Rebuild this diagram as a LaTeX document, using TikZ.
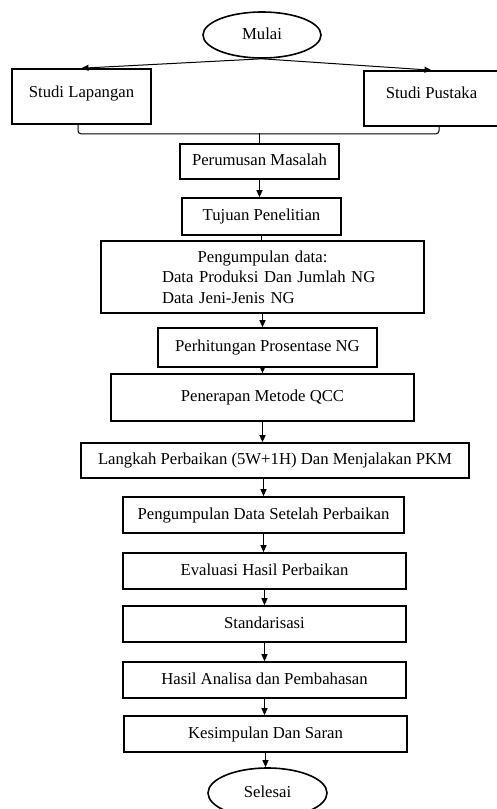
\documentclass[tikz,border=0pt]{standalone}
\usepackage{fontspec}
\setmainfont{Liberation Serif}
\usetikzlibrary{arrows.meta,shapes.geometric}
\begin{document}
\begin{tikzpicture}[x=1pt,y=-1pt,
  txt/.style={font=\fontsize{16.7}{20.5}\selectfont},
  box/.style={txt,draw,line width=1.6pt,rectangle,inner sep=0pt,text height=12pt,text depth=4pt},
  oval/.style={txt,draw,line width=1.6pt,ellipse,inner sep=0pt,text height=12pt,text depth=4pt},
  arr/.style={line width=1pt,-{Triangle[length=7pt,width=6pt]}},
  ln/.style={line width=1pt}]
\useasboundingbox (0,0) rectangle (496,809);

\node[oval,minimum width=118pt,minimum height=46pt] (mulai) at (262,35) {Mulai};
\node[box,minimum width=139pt,minimum height=55pt,text height=28pt,text depth=27pt] (lap) at (81.5,96.5) {Studi Lapangan};
\node[box,minimum width=135pt,minimum height=55pt,text height=27.5pt,text depth=27.5pt] (pus) at (431.5,98.5) {Studi Pustaka};
\node[box,minimum width=159pt,minimum height=35pt] (per) at (259.5,161.5) {Perumusan Masalah};
\node[box,minimum width=159pt,minimum height=37pt] (tuj) at (261.5,216.5) {Tujuan Penelitian};
\node[txt,draw,line width=1.6pt,rectangle,inner sep=0pt,minimum width=323pt,minimum height=72pt,text width=323pt,align=left] (pdata) at (262.5,277)
  {\makebox[323pt][c]{Pengumpulan data:}\\\hspace*{61pt}Data Produksi Dan Jumlah NG\\\hspace*{61pt}Data Jeni-Jenis NG};
\node[box,minimum width=219pt,minimum height=39pt] (phit) at (267.5,347.5) {Perhitungan Prosentase NG};
\node[box,minimum width=303pt,minimum height=47pt] (pen) at (262.5,397.5) {Penerapan Metode QCC};
\node[box,minimum width=388pt,minimum height=35pt] (lang) at (275,460.5) {Langkah Perbaikan (5W+1H) Dan Menjalakan PKM};
\node[box,minimum width=281pt,minimum height=36pt] (setl) at (263.5,515) {Pengumpulan Data Setelah Perbaikan};
\node[box,minimum width=283pt,minimum height=36pt] (eval) at (264.5,571) {Evaluasi Hasil Perbaikan};
\node[box,minimum width=283pt,minimum height=36pt] (std) at (264.5,624) {Standarisasi};
\node[box,minimum width=283pt,minimum height=36pt] (has) at (264.5,680) {Hasil Analisa dan Pembahasan};
\node[box,minimum width=283pt,minimum height=36pt] (kes) at (265.5,734) {Kesimpulan Dan Saran};
\node[oval,minimum width=119pt,minimum height=50pt] (sel) at (267.5,793) {Selesai};

\coordinate (jn) at (258.5,133);
\draw[arr] (mulai.south) -- (lap.north);
\draw[arr] (mulai.south) -- (pus.north);
\draw[ln,rounded corners=3pt] ([xshift=-3.5pt]lap.south) -- ++(0,9) -| ([xshift=7.5pt]pus.south);
\draw[ln] (per.north |- jn) -- (per.north);
\draw[arr] (per.south) -- (per.south |- tuj.north);
\draw[ln] (tuj.south) -- (tuj.south |- pdata.north);
\draw[arr] (pdata.south) -- (pdata.south |- phit.north);
\draw[arr] (pen.north |- phit.south) -- (pen.north);
\draw[arr] (pen.south) -- (pen.south |- lang.north);
\draw[arr] (setl.north |- lang.south) -- (setl.north);
\draw[arr] (setl.south) -- (setl.south |- eval.north);
\draw[arr] (eval.south) -- (eval.south |- std.north);
\draw[arr] (std.south) -- (std.south |- has.north);
\draw[arr] (has.south) -- (has.south |- kes.north);
\draw[arr] (kes.south) -- (kes.south |- sel.north);
\end{tikzpicture}
\end{document}
